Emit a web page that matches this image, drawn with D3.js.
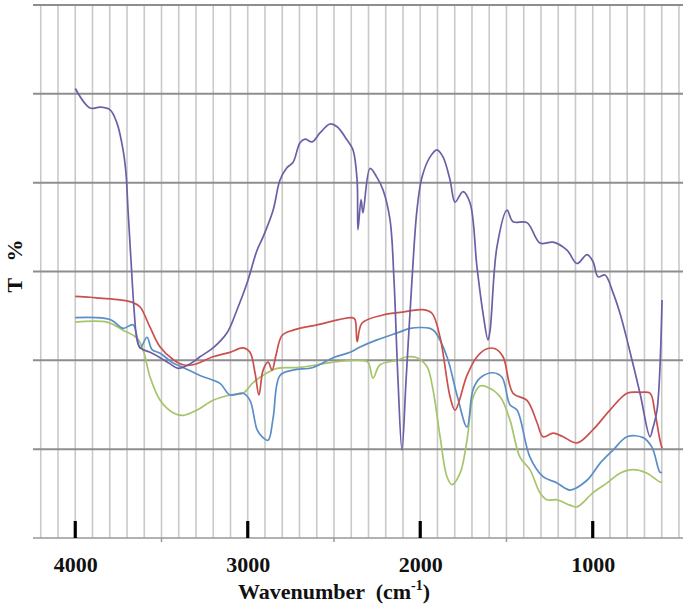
<!DOCTYPE html>
<html><head><meta charset="utf-8">
<script src="https://cdn.jsdelivr.net/npm/d3@7"></script>
<style>body{margin:0;background:#fff}svg{display:block}</style>
</head><body>
<svg id="chart" width="685" height="612"></svg>
<script>
// wavenumber (cm-1) and T% readings for each spectrum
const purpleW = [4000,3914,3856,3798,3758,3723,3706,3694,3677,3659,3642,3624,3566,3508,3450,3404,3335,3277,3201,3120,3062,3004,2946,2911,2853,2813,2772,2737,2697,2668,2627,2581,2523,2482,2424,2390,2366,2361,2343,2332,2291,2251,2216,2175,2152,2129,2106,2082,2048,2019,1990,1943,1903,1868,1827,1798,1752,1711,1671,1636,1607,1595,1555,1497,1462,1381,1306,1230,1149,1091,1033,998,969,929,882,842,801,726,668,651,627,598];
const purpleT = [50.6,48.4,48.5,48.2,46.7,43.7,41.1,36.9,31.3,25.7,22.3,21.4,20.9,20.3,19.6,19.1,19.6,20.4,21.4,23.1,25.7,28.7,32.4,33.9,36.9,40.3,41.7,42.3,44.5,44.9,44.6,45.6,46.6,46.3,44.8,43.7,40.3,34.7,38.1,36.6,41.6,40.6,39.2,35.8,29.0,17.8,9.9,17.8,29.0,36.9,40.6,42.9,43.7,42.9,40.3,37.8,39.0,37.7,30.5,25.3,22.3,23.4,32.8,36.9,35.6,35.5,33.2,33.3,32.4,30.9,31.9,31.1,29.4,29.6,27.6,25.3,22.3,16.3,11.4,12.4,14.4,26.8];

const redW = [4000,3914,3856,3740,3665,3624,3566,3508,3433,3375,3317,3201,3103,3027,2987,2958,2935,2911,2882,2859,2836,2801,2737,2598,2395,2378,2366,2337,2216,2117,1984,1932,1885,1827,1798,1729,1671,1613,1566,1520,1462,1381,1323,1288,1230,1172,1091,998,900,801,726,668,639,610,598];
const redT = [27.2,27.1,27.0,26.8,26.5,26.0,23.7,21.5,20.1,19.5,19.5,20.4,20.9,21.4,20.9,18.6,16.1,18.9,19.8,18.9,20.6,22.8,23.4,24.0,24.8,24.6,22.1,24.2,25.1,25.4,25.7,25.3,22.6,15.9,14.4,18.3,20.4,21.3,21.3,20.4,16.3,15.5,13.0,11.4,11.8,11.4,10.7,12.2,14.4,16.3,16.4,16.3,14.1,11.0,10.1];

const blueW = [4000,3798,3723,3665,3624,3584,3555,3508,3433,3375,3277,3161,3103,3027,2987,2946,2917,2882,2853,2813,2737,2622,2505,2407,2349,2251,2117,2059,1943,1914,1845,1787,1729,1694,1654,1578,1526,1480,1439,1364,1288,1207,1132,1033,958,882,801,708,656,610,598];
const blueT = [24.8,24.6,23.6,24.0,21.4,22.6,21.2,20.8,19.7,19.2,18.3,17.4,16.1,16.3,15.5,12.2,11.4,11.0,13.5,18.3,18.9,19.2,20.3,20.9,21.5,22.3,23.2,23.6,23.6,23.2,20.4,16.1,12.5,16.7,18.0,18.6,18.1,15.0,14.4,9.1,6.9,6.2,5.4,6.5,8.4,9.9,11.4,11.3,10.2,7.4,7.4];

const greenW = [4000,3816,3723,3642,3607,3566,3508,3433,3375,3294,3201,3103,3027,2969,2888,2830,2697,2505,2349,2303,2274,2233,2135,2077,2019,1961,1926,1885,1845,1816,1769,1729,1694,1654,1613,1537,1480,1422,1364,1306,1265,1207,1132,1091,998,917,842,766,685,610,598];
const greenT = [24.3,24.3,23.4,22.5,21.2,18.1,15.5,14.1,13.8,14.4,15.5,16.1,16.3,17.5,18.6,19.1,19.2,19.8,20.0,19.8,18.0,19.5,20.0,20.4,20.3,19.3,16.7,11.4,6.9,6.0,7.3,11.0,15.8,17.1,17.0,15.9,13.3,9.1,7.7,5.1,4.3,4.3,3.7,3.5,5.1,6.2,7.3,7.7,7.3,6.3,6.3];

const majorTicks = [4000, 3000, 2000, 1000];
const minorTicks = [3500, 2500, 1500];
const xLabel = "Wavenumber  (cm";
const yLabel = "T   %";

const series = [
  {w: greenW, t: greenT, color: "#a6c46a"},
  {w: blueW, t: blueT, color: "#5b8ec8"},
  {w: redW, t: redT, color: "#c9504d"},
  {w: purpleW, t: purpleT, color: "#6d5ea6"}
];

const svg = d3.select("#chart");
const x = d3.scaleLinear().domain([4245, 465]).range([33, 685]);
const y = d3.scaleLinear().domain([0, 60]).range([538, 5]);

// vertical gridlines every 100 cm-1
svg.append("g").selectAll("line").data(d3.range(4200, 499, -100)).join("line")
  .attr("x1", d => x(d)).attr("x2", d => x(d))
  .attr("y1", y(60)).attr("y2", y(0))
  .attr("stroke", "#c9c9c9").attr("stroke-width", 1.6);

// horizontal gridlines
svg.append("g").selectAll("line").data(d3.range(10, 61, 10)).join("line")
  .attr("x1", 33).attr("x2", 683)
  .attr("y1", d => y(d)).attr("y2", d => y(d))
  .attr("stroke", "#8e8e8e").attr("stroke-width", 2);

// axis baseline
svg.append("line").attr("x1", 33).attr("x2", 683).attr("y1", y(0)).attr("y2", y(0))
  .attr("stroke", "#999").attr("stroke-width", 1.6);

// minor ticks
svg.append("g").selectAll("line").data(minorTicks).join("line")
  .attr("x1", d => x(d)).attr("x2", d => x(d))
  .attr("y1", y(0)).attr("y2", y(0) + 4)
  .attr("stroke", "#999").attr("stroke-width", 1.5);

// curves
const line = d3.line().curve(d3.curveCatmullRom.alpha(0.5));
series.forEach(s => {
  svg.append("path")
    .attr("d", line(s.w.map((w, i) => [x(w), y(s.t[i])])))
    .attr("fill", "none").attr("stroke", s.color).attr("stroke-width", 1.7)
    .attr("stroke-linejoin", "round");
});

// major ticks
svg.append("g").selectAll("line").data(majorTicks).join("line")
  .attr("x1", d => x(d)).attr("x2", d => x(d))
  .attr("y1", y(0) - 17).attr("y2", y(0))
  .attr("stroke", "#000").attr("stroke-width", 3.2);

// tick labels via axis
const axis = d3.axisBottom(x).tickValues(majorTicks).tickSize(0).tickPadding(0).tickFormat(d3.format("d"));
const ag = svg.append("g").attr("transform", "translate(0,572)").call(axis);
ag.select(".domain").remove();
ag.selectAll("text").attr("dy", 0).attr("y", 0)
  .attr("font-family", "'Liberation Serif', 'Times New Roman', serif")
  .attr("font-weight", "bold").attr("font-size", 22).attr("fill", "#111");

// x label
const xl = svg.append("text").attr("x", 334).attr("y", 599).attr("text-anchor", "middle")
  .attr("font-family", "'Liberation Serif', 'Times New Roman', serif")
  .attr("font-weight", "bold").attr("font-size", 22).attr("fill", "#111")
  .style("white-space", "pre");
xl.append("tspan").text(xLabel);
xl.append("tspan").attr("font-size", 14).attr("dy", -9).text("-1");
xl.append("tspan").attr("dy", 9).text(")");

// y label
svg.append("text").attr("transform", "translate(22,266) rotate(-90)")
  .attr("text-anchor", "middle")
  .attr("font-family", "'Liberation Serif', 'Times New Roman', serif")
  .attr("font-weight", "bold").attr("font-size", 22).attr("fill", "#111")
  .style("white-space", "pre").text(yLabel);
</script>
</body></html>
